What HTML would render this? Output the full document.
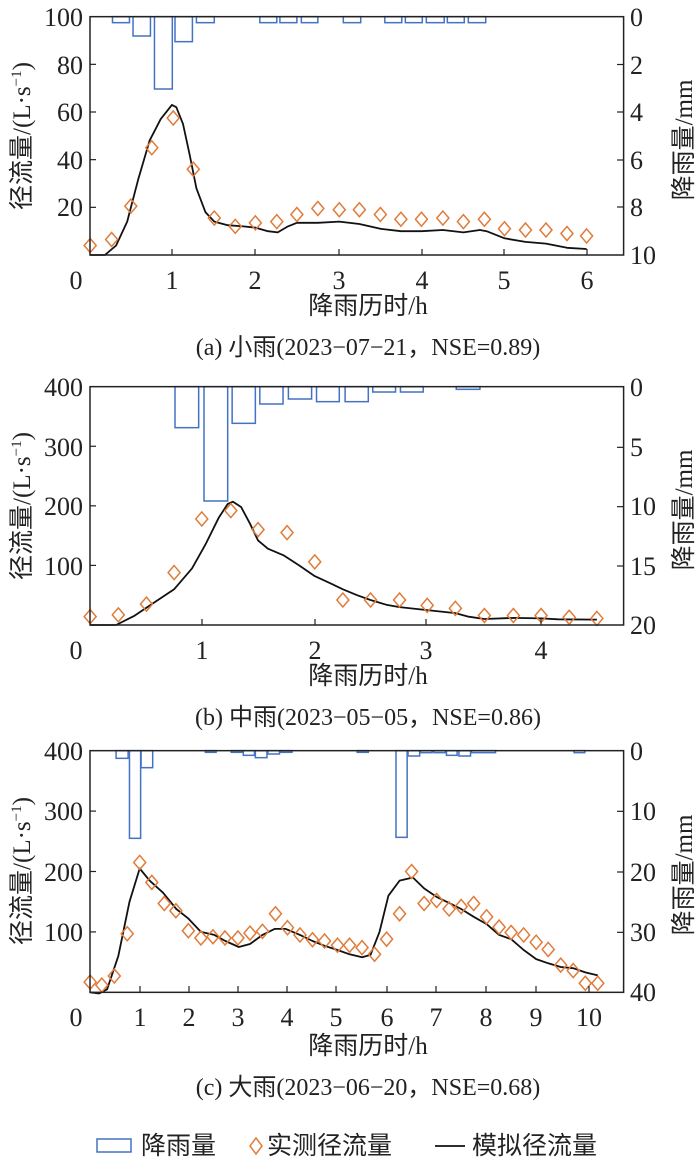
<!DOCTYPE html>
<html><head><meta charset="utf-8"><style>
html,body{margin:0;padding:0;background:#fff;}
svg{display:block;}
text{font-family:"Liberation Serif","Noto Serif CJK SC","Noto Sans CJK SC",serif;fill:#222;}
.t{font-size:26px;}
.c{font-family:"Liberation Serif","Noto Sans CJK SC",sans-serif;font-size:25px;}
.cap{font-family:"Liberation Serif","Noto Sans CJK SC",sans-serif;font-size:24px;}
</style></head><body>
<svg id="s" width="700" height="1168" viewBox="0 0 700 1168" xmlns="http://www.w3.org/2000/svg">
<g id="g"></g>
<!-- panel a texts -->
<g class="t" text-anchor="end">
<text x="83" y="26">100</text><text x="83" y="74">80</text><text x="83" y="121">60</text><text x="83" y="169">40</text><text x="83" y="216">20</text>
</g>
<g class="t">
<text x="630" y="26">0</text><text x="630" y="74">2</text><text x="630" y="121">4</text><text x="630" y="169">6</text><text x="630" y="216">8</text><text x="630" y="264">10</text>
</g>
<g class="t" text-anchor="middle">
<text x="76" y="289">0</text><text x="172" y="289">1</text><text x="255" y="289">2</text><text x="339" y="289">3</text><text x="422" y="289">4</text><text x="504" y="289">5</text><text x="587" y="289">6</text>
</g>
<text class="c" x="368" y="314" text-anchor="middle">降雨历时/h</text>
<text class="cap" x="368" y="355" text-anchor="middle">(a) 小雨(2023−07−21，NSE=0.89)</text>
<text class="c" transform="translate(30,136) rotate(-90)" text-anchor="middle">径流量/(L·s<tspan dy="-9" font-size="15">−1</tspan><tspan dy="9">)</tspan></text>
<text class="c" transform="translate(692,140) rotate(-90)" text-anchor="middle">降雨量/mm</text>

<!-- panel b -->
<g class="t" text-anchor="end">
<text x="83" y="396">400</text><text x="83" y="456">300</text><text x="83" y="515">200</text><text x="83" y="575">100</text>
</g>
<g class="t">
<text x="630" y="396">0</text><text x="630" y="456">5</text><text x="630" y="515">10</text><text x="630" y="575">15</text><text x="630" y="634">20</text>
</g>
<g class="t" text-anchor="middle">
<text x="76" y="659">0</text><text x="202" y="659">1</text><text x="315" y="659">2</text><text x="426" y="659">3</text><text x="541" y="659">4</text>
</g>
<text class="c" x="368" y="684" text-anchor="middle">降雨历时/h</text>
<text class="cap" x="368" y="725" text-anchor="middle">(b) 中雨(2023−05−05，NSE=0.86)</text>
<text class="c" transform="translate(30,506) rotate(-90)" text-anchor="middle">径流量/(L·s<tspan dy="-9" font-size="15">−1</tspan><tspan dy="9">)</tspan></text>
<text class="c" transform="translate(692,510) rotate(-90)" text-anchor="middle">降雨量/mm</text>

<!-- panel c -->
<g class="t" text-anchor="end">
<text x="83" y="760">400</text><text x="83" y="820">300</text><text x="83" y="881">200</text><text x="83" y="941">100</text>
</g>
<g class="t">
<text x="630" y="760">0</text><text x="630" y="820">10</text><text x="630" y="881">20</text><text x="630" y="941">30</text><text x="630" y="1001">40</text>
</g>
<g class="t" text-anchor="middle">
<text x="76" y="1026">0</text><text x="140" y="1026">1</text><text x="189" y="1026">2</text><text x="238" y="1026">3</text><text x="287" y="1026">4</text><text x="336" y="1026">5</text><text x="387" y="1026">6</text><text x="436" y="1026">7</text><text x="486" y="1026">8</text><text x="536" y="1026">9</text><text x="589" y="1026">10</text>
</g>
<text class="c" x="368" y="1054" text-anchor="middle">降雨历时/h</text>
<text class="cap" x="368" y="1095" text-anchor="middle">(c) 大雨(2023−06−20，NSE=0.68)</text>
<text class="c" transform="translate(30,871) rotate(-90)" text-anchor="middle">径流量/(L·s<tspan dy="-9" font-size="15">−1</tspan><tspan dy="9">)</tspan></text>
<text class="c" transform="translate(692,875) rotate(-90)" text-anchor="middle">降雨量/mm</text>

<!-- legend -->
<rect x="97" y="1139" width="34" height="13" fill="none" stroke="#4472c4" stroke-width="1.5"/>
<text class="c" x="141" y="1154" font-size="26">降雨量</text>
<path d="M256 1138 L262 1146 L256 1154 L250 1146 Z" fill="none" stroke="#e07b39" stroke-width="1.5"/>
<text class="c" x="267" y="1154" font-size="26">实测径流量</text>
<line x1="435" y1="1146" x2="465" y2="1146" stroke="#111" stroke-width="1.8"/>
<text class="c" x="472" y="1154" font-size="26">模拟径流量</text>
</svg>
<script>
var NS="http://www.w3.org/2000/svg",G=document.getElementById('g');
function el(n,a){var e=document.createElementNS(NS,n);for(var k in a)e.setAttribute(k,a[k]);G.appendChild(e);return e;}
function X(z){return z/2.24;}
function panel(oy,top,bot,max,yt,yticksR,bars,dia,line){
  var Y=function(f){return oy+(bot-f*(bot-top)/max)/3;};
  var T=oy+top/3,B=oy+bot/3;
  bars.forEach(function(b){el('rect',{x:X(b[0]),y:T,width:X(b[1])-X(b[0]),height:(b[2]-top)/3,fill:'none',stroke:'#4472c4','stroke-width':1.5});});
  var p=line.map(function(q){return X(q[0]).toFixed(1)+','+Y(q[1]).toFixed(1);}).join(' ');
  el('polyline',{points:p,fill:'none',stroke:'#111','stroke-width':1.8,'stroke-linejoin':'round'});
  dia.forEach(function(d){var x=X(d[0]),y=Y(d[1]);el('path',{d:'M'+x+' '+(y-7)+'L'+(x+6)+' '+y+'L'+x+' '+(y+7)+'L'+(x-6)+' '+y+'Z',fill:'none',stroke:'#e07b39','stroke-width':1.5});});
  el('rect',{x:90,y:T,width:533.6,height:B-T,fill:'none',stroke:'#222','stroke-width':1.5});
  yt.forEach(function(v){var y=Y(v);el('line',{x1:90,y1:y,x2:96,y2:y,stroke:'#222','stroke-width':1.2});});
  yticksR.forEach(function(y){el('line',{x1:617,y1:y,x2:623.6,y2:y,stroke:'#222','stroke-width':1.2});});
}
panel(0,50,765,100,[20,40,60,80],[64.5,112,160,207],
[[252,290,68],[298,337,108],[346,386,267],[392,431,125],[440,480,68],[582,620,68],[627,665,68],[675,712,68],[769,808,68],[862,900,68],[908,946,68],[955,995,68],[1002,1040,68],[1049,1088,68]],
[[202,4],[250,6.5],[293,20.5],[340,45],[388,57.5],[433,36],[480,15.5],[527,12],[572,13.5],[620,14],[665,17],[712,19.5],[760,19],[805,19],[852,17],[898,15],[944,15],[992,15.5],[1038,14],[1085,15],[1130,11],[1177,10.5],[1223,10.5],[1270,9],[1314,8]],
[[202,0],[235,0],[260,4],[285,14],[310,32],[335,48],[360,57],[385,63],[395,62],[410,55],[425,42],[440,28],[460,18],[480,14],[510,12.5],[545,12],[572,11.5],[600,10],[622,9.5],[645,12],[665,13.5],[712,13.5],[760,14],[805,13],[852,11],[898,10],[944,10],[992,10.5],[1038,9.5],[1075,10.5],[1090,10],[1130,7],[1177,5.5],[1223,4.8],[1270,3],[1314,2.5]]);
panel(370,50,765,400,[100,200,300],[370+232/3,370+410/3,370+588/3],
[[392,445,173],[457,510,393],[520,572,160],[582,634,102],[646,698,87],[709,760,95],[773,825,95],[835,886,66],[897,948,66],[1022,1075,58]],
[[202,14],[265,17],[328,35],[390,88],[452,178],[517,192],[578,160],[643,155],[705,106],[768,42],[830,42],[895,42],[957,33],[1020,28],[1085,16],[1150,16],[1212,16],[1275,13],[1337,11]],
[[202,0],[260,0],[300,15],[340,35],[390,60],[430,95],[460,135],[490,180],[510,203],[522,207],[540,198],[560,170],[578,142],[600,128],[635,117],[670,100],[705,82],[740,70],[768,60],[800,50],[830,42],[865,34],[895,30],[957,25],[1020,20],[1050,14],[1085,10],[1150,12],[1212,11],[1250,9.5],[1337,9]]);
panel(740,32,757,400,[100,200,300],[740+214/3,740+396/3,740+577/3],
[[260,287,55],[290,315,295],[316,342,83],[460,484,37],[518,542,37],[545,570,46],[572,598,53],[600,626,42],[628,654,37],[800,825,37],[887,912,292],[914,940,48],[942,968,38],[972,998,38],[1000,1024,46],[1028,1054,48],[1056,1110,38],[1286,1310,38]],
[[202,17],[228,12],[256,27],[285,97],[313,215],[340,182],[368,147],[394,135],[422,102],[450,90],[477,92],[504,90],[533,90],[560,98],[588,101],[617,130],[644,107],[672,95],[700,87],[727,85],[756,78],[783,78],[811,74],[839,63],[866,88],[895,130],[922,200],[950,147],[978,152],[1006,138],[1033,142],[1061,147],[1090,125],[1118,108],[1145,99],[1173,95],[1201,83],[1228,71],[1256,45],[1284,36],[1311,15],[1339,15]],
[[202,0],[222,-2],[240,5],[265,60],[290,150],[313,205],[335,185],[365,165],[395,138],[422,122],[450,100],[480,95],[505,85],[535,75],[560,80],[588,95],[615,105],[640,105],[672,95],[700,85],[727,77],[756,70],[783,63],[811,58],[830,62],[850,100],[870,160],[895,185],[925,190],[950,172],[978,158],[1006,148],[1033,138],[1061,125],[1090,113],[1118,95],[1145,88],[1173,70],[1201,55],[1228,48],[1256,42],[1284,40],[1311,33],[1339,28]]);
var xt=[[255,[172,255,339,422,504,587]],[625,[202,315,426,541]],[992,[140,189,238,287,336,387,436,486,536,589]]];
xt.forEach(function(p){p[1].forEach(function(x){el('line',{x1:x,y1:p[0],x2:x,y2:p[0]-6,stroke:'#222','stroke-width':1.2});});});
</script>
</body></html>
